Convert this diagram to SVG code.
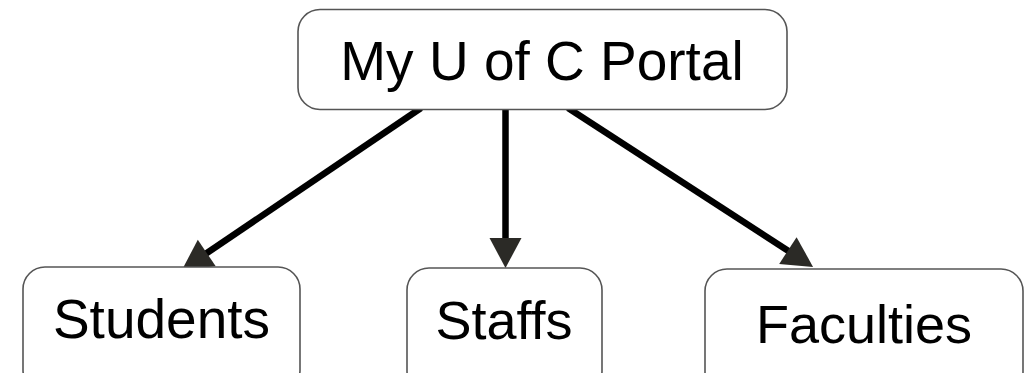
<svg xmlns="http://www.w3.org/2000/svg" width="1035" height="373" viewBox="0 0 1035 373">
  <style>
    .box { fill: #ffffff; stroke: #555555; stroke-width: 1.6; }
    .label { font-family: "Liberation Sans", Arial, sans-serif; font-size: 55px; fill: #000000; text-anchor: middle; }
    .edge { stroke: #000000; stroke-width: 6.5; fill: none; marker-end: url(#arrow); }
  </style>
  <defs>
    <marker id="arrow" markerUnits="userSpaceOnUse" markerWidth="34" markerHeight="36" viewBox="-2 -18 34 36" refX="3" refY="0" orient="auto">
      <path d="M0,-16 L30,0 L0,16 Z" fill="#2b2a26"/>
    </marker>
  </defs>
  <g id="connectors">
    <line class="edge" x1="421" y1="108" x2="204.3" y2="254.8"/>
    <line class="edge" x1="505.5" y1="108" x2="505.5" y2="241"/>
    <line class="edge" x1="568" y1="108" x2="790.4" y2="252.2"/>
  </g>
  <g id="node-portal">
    <rect class="box" x="298" y="9.5" width="489" height="100" rx="22" ry="22"/>
    <text class="label" x="542" y="80">My U of C Portal</text>
  </g>
  <g id="node-students">
    <rect class="box" x="23" y="267" width="277" height="125" rx="22" ry="22"/>
    <text class="label" x="161.5" y="338">Students</text>
  </g>
  <g id="node-staffs">
    <rect class="box" x="407" y="268" width="195" height="125" rx="22" ry="22"/>
    <text class="label" x="504" y="339" style="font-size:54px">Staffs</text>
  </g>
  <g id="node-faculties">
    <rect class="box" x="705" y="269" width="318" height="125" rx="22" ry="22"/>
    <text class="label" x="864" y="343" style="font-size:54px">Faculties</text>
  </g>
</svg>
